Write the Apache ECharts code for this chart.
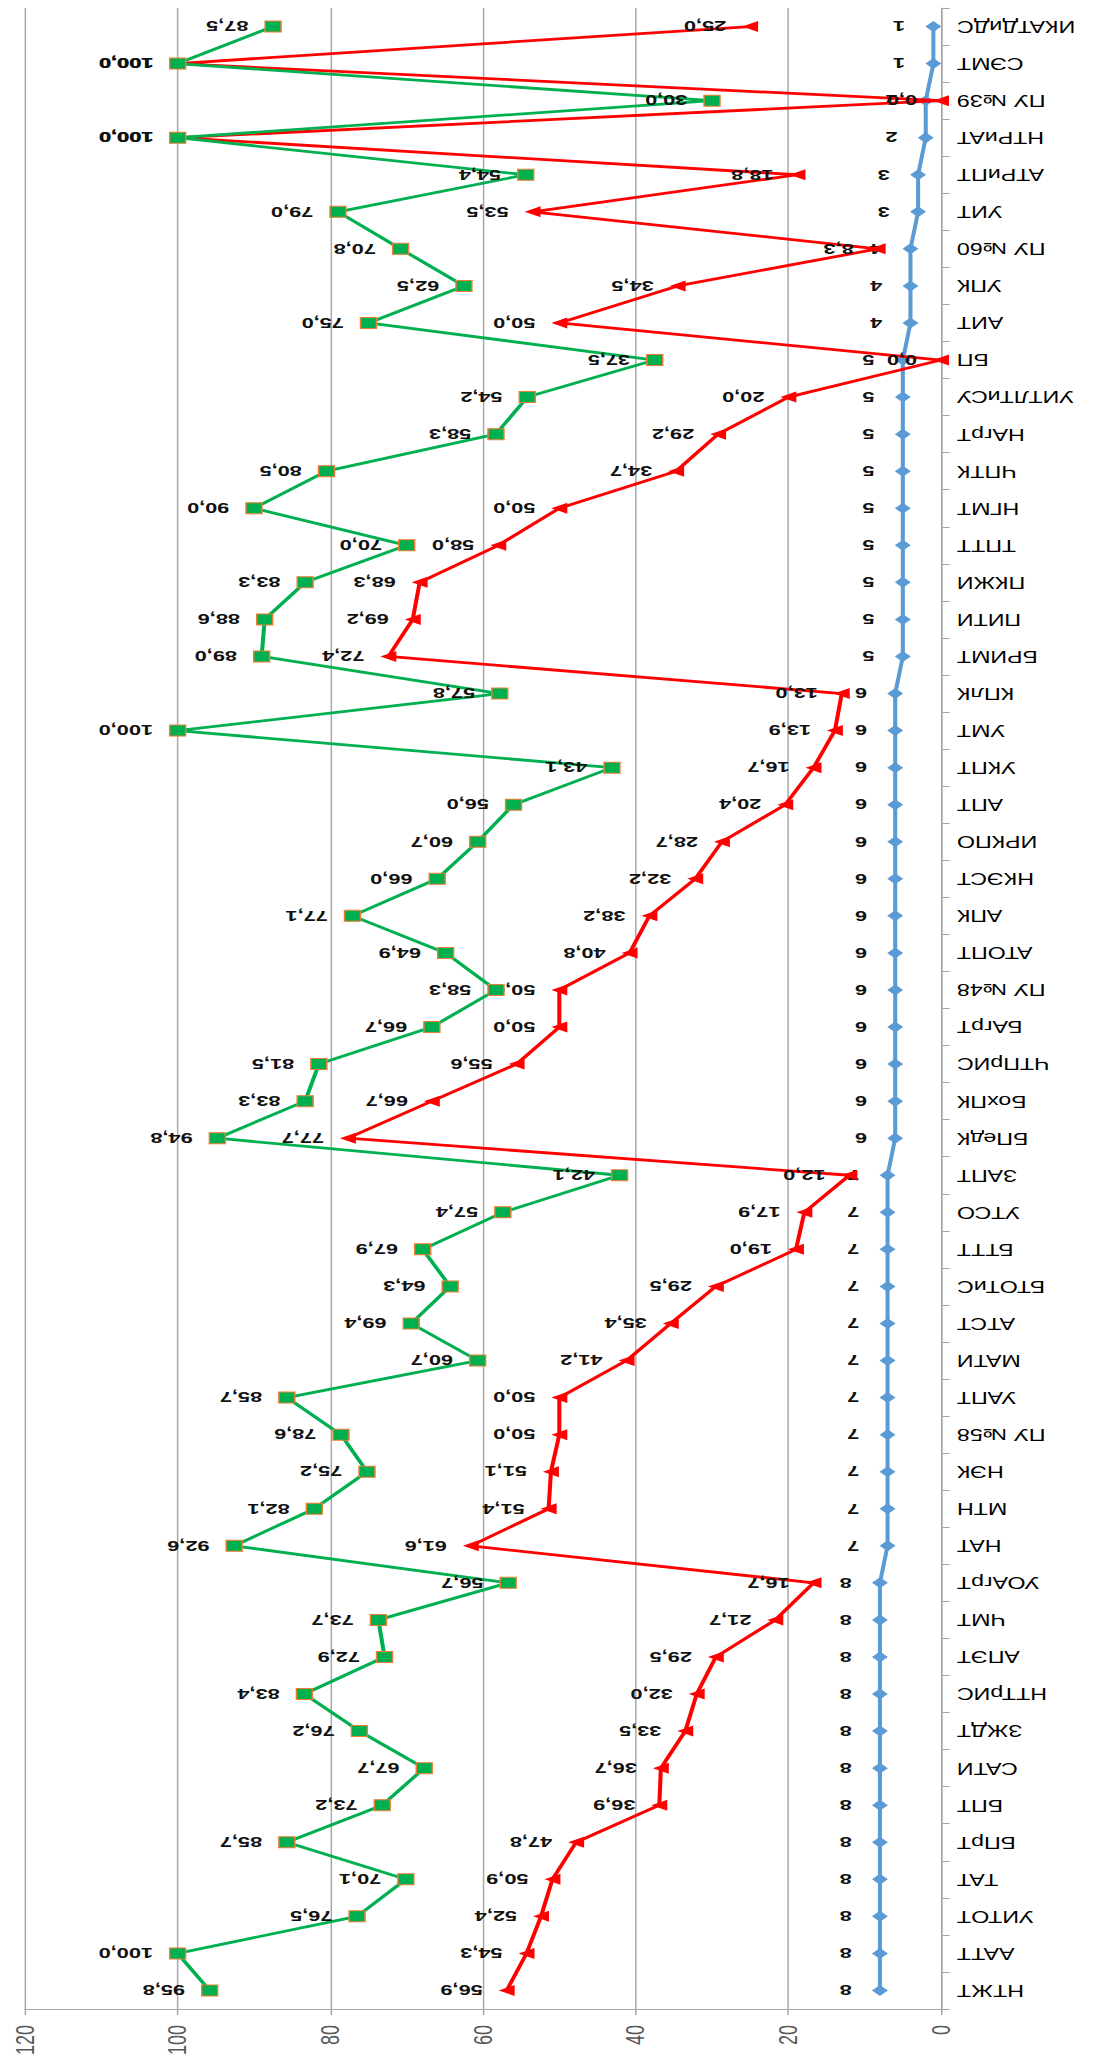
<!DOCTYPE html>
<html>
<head>
<meta charset="utf-8">
<script src="https://cdn.jsdelivr.net/npm/echarts@6/dist/echarts.min.js"></script>
<style>
html,body{margin:0;padding:0;background:#fff;overflow:hidden;}
#wrap{width:1112px;height:2067px;overflow:hidden;position:relative;background:#fff;}
#chart{width:767px;height:2067px;transform:scaleX(1.45);transform-origin:0 0;}
</style>
</head>
<body>
<div id="wrap"><div id="chart"></div></div>
<script>
// categories listed from the bottom of the chart to the top
const categories = ["НТЖТ","ААТТ","УИТОТ","ТАТ","БПрТ","БПТ","САТИ","ЗЖДТ","НТТрИС","АПЭТ","ЧМТ","УОАгрТ",
  "НАТ","МТН","НЭК","ПУ №58","УАПТ","МАТИ","АТСТ","БТОТиС","БТТТ","УТСО","ЗАПТ",
  "БПедК","БохПК","ЧТПрИС","БАгрТ","ПУ №48","АТОПТ","АПК","НКЭСТ","ИРКПО","АПТ","УКПТ","УМТ","КПлК",
  "БРИМТ","ПИТИ","ПКЖИ","ТПТТ","НГМТ","ЧПТК","НАгрТ","УИТЛТиСУ","БП",
  "АИТ","УПК","ПУ №60","УИТ","АТРиПТ","НТРиАТ","ПУ №39","СЭМТ","ИКАТДиДС"];
const blueValues = [8,8,8,8,8,8,8,8,8,8,8,8,
  7,7,7,7,7,7,7,7,7,7,7,
  6,6,6,6,6,6,6,6,6,6,6,6,6,
  5,5,5,5,5,5,5,5,5,
  4,4,4,3,3,2,2,1,1];
const redValues = [56.9,54.3,52.4,50.9,47.8,36.9,36.7,33.5,32.0,29.5,21.7,16.7,
  61.6,51.4,51.1,50.0,50.0,41.2,35.4,29.5,19.0,17.9,12.0,
  77.7,66.7,55.6,50.0,50.0,40.8,38.2,32.2,28.7,20.4,16.7,13.9,13.0,
  72.4,69.2,68.3,58.0,50.0,34.7,29.2,20.0,0.0,
  50.0,34.5,8.3,53.5,18.8,100.0,0.0,100.0,25.0];
const greenValues = [95.8,100.0,76.5,70.1,85.7,73.2,67.7,76.2,83.4,72.9,73.7,56.7,
  92.6,82.1,75.2,78.6,85.7,60.7,69.4,64.3,67.9,57.4,42.1,
  94.8,83.3,81.5,66.7,58.3,64.9,77.1,66.0,60.7,56.0,43.1,100.0,57.8,
  89.0,88.6,83.3,70.0,90.0,80.5,58.3,54.2,37.5,
  75.0,62.5,70.8,79.0,54.4,100.0,30.0,100.0,87.5];
const valueMin = 0, valueMax = 120, valueStep = 20;

const K = 1.45;
const W = 1112 / K;
const FONT = 'Liberation Sans, Arial, sans-serif';
const chart = echarts.init(document.getElementById('chart'), null, {renderer: 'svg', width: W, height: 2067});

const fmt1 = p => p.value.toFixed(1).replace('.', ',');
function lab(dist, formatter) {
  return {show: true, position: 'left', distance: dist, rotate: 180, align: 'left', verticalAlign: 'middle',
    fontFamily: FONT, fontSize: 15, fontWeight: 'bold', color: '#111', formatter: formatter};
}

const option = {
  animation: false,
  backgroundColor: '#fff',
  grid: {left: 25 / K, right: (1112 - 941) / K, top: 8, bottom: 2067 - 2009, containLabel: false, outerBoundsMode: 'none'},
  xAxis: {
    type: 'value', inverse: true, min: valueMin, max: valueMax, interval: valueStep, position: 'bottom',
    axisLine: {show: true, lineStyle: {color: '#A6A6A6', width: 1}},
    axisTick: {show: true, length: 6, lineStyle: {color: '#A6A6A6'}},
    splitLine: {show: true, lineStyle: {color: '#A6A6A6', width: 1}},
    axisLabel: {rotate: 90, margin: 16, fontSize: 18, color: '#595959', fontFamily: FONT}
  },
  yAxis: {
    type: 'category', data: categories, position: 'right', boundaryGap: true,
    axisLine: {show: true, onZero: false, lineStyle: {color: '#A6A6A6', width: 1}},
    axisTick: {show: true, length: 6, lineStyle: {color: '#A6A6A6'}},
    splitLine: {show: false},
    axisLabel: {rotate: 180, interval: 0, margin: 11, fontSize: 16, color: '#000', fontFamily: FONT}
  },
  series: [
    {
      name: 'blue', type: 'line', data: blueValues, symbol: 'diamond', symbolSize: 11,
      itemStyle: {color: '#5B9BD5'}, lineStyle: {color: '#5B9BD5', width: 2.8},
      label: lab(14, p => String(p.value)), z: 2
    },
    {
      name: 'red', type: 'line', data: redValues, symbol: 'triangle', symbolSize: 11, symbolRotate: 90,
      itemStyle: {color: '#FF0000'}, lineStyle: {color: '#FF0000', width: 2.8},
      label: lab(11, fmt1), z: 3
    },
    {
      name: 'green', type: 'line', data: greenValues, symbol: 'rect', symbolSize: 11,
      itemStyle: {color: '#00B050', borderColor: '#ED7D31', borderWidth: 1},
      lineStyle: {color: '#00B050', width: 2.8},
      label: lab(11, fmt1), z: 4
    }
  ]
};
chart.setOption(option);
</script>
</body>
</html>
